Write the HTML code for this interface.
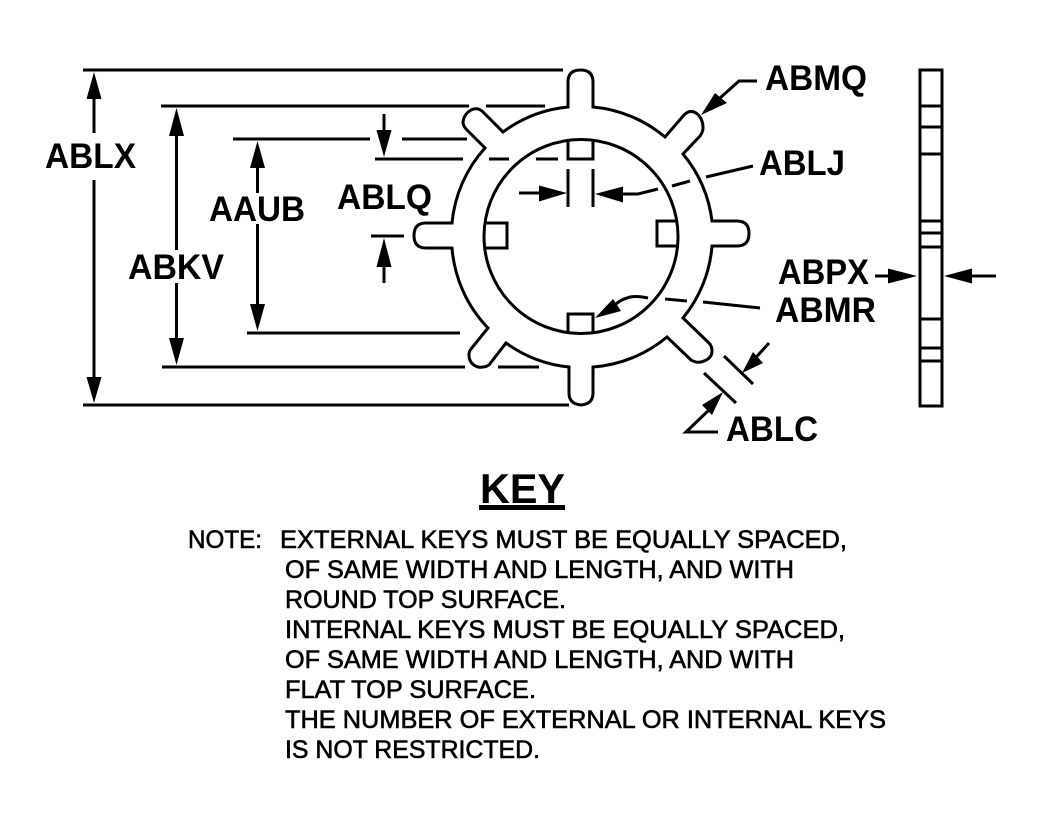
<!DOCTYPE html>
<html>
<head>
<meta charset="utf-8">
<style>
html,body{margin:0;padding:0;background:#fff;}
svg{display:block;}
.l{font:bold 35px "Liberation Sans",Arial,sans-serif;fill:#000;}
.n{font:25px "Liberation Sans",Arial,sans-serif;fill:#000;stroke:#000;stroke-width:.6;}
</style>
</head>
<body>
<svg width="1038" height="819" viewBox="0 0 1038 819" xmlns="http://www.w3.org/2000/svg">
<rect width="1038" height="819" fill="#fff"/>
<!-- outer outline -->
<g fill="none" stroke="#000" stroke-width="3">
<path d="M568 107 V82 Q568 70 580.5 70 Q593 70 593 82 V107 A130 130 0 0 1 665 137 L684 115 Q690 109 696 113 Q703 118 703 128 Q703 132 700 136 L683 154 A130 130 0 0 1 712 221 H737 Q749 221 749 233.5 Q749 246 737 246 H712 A130 130 0 0 1 683 318 L709 343 Q712 346 712 351 Q712 358 704 361 Q698 364 691 360 L667 337 A130 130 0 0 1 593 367 V393 Q593 404 581 405 Q569 404 569 393 V367 A130 130 0 0 1 506 343 L489 365 Q484 368 478 367 Q469 364 469 355 Q469 351 471 349 L488 328 A130 130 0 0 1 452 248 H426 Q414 248 414 235.5 Q414 223 426 223 H452 A130 130 0 0 1 485 148 L467 130 Q463 126 463 122 Q464 114 471 110 Q477 107 482 111 L503 132 A130 130 0 0 1 568 107 Z"/>
<circle cx="581" cy="236.5" r="97"/>
<path d="M568 140 V159 H593 V140"/>
<path d="M484 223 H507 V248 H484"/>
<path d="M678 221 H657 V246 H678"/>
<path d="M568 333 V314 H593 V333"/>
<!-- extension lines -->
<path d="M83 70 H563 M161 106 H469 M486 106 H545 M233 139 H370 M402 139 H467 M375 159 H463 M489 159 H509 M536 159 H558 M371 236 H404 M247 333 H460 M162 367 H465 M498 367 H539 M83 405 H569"/>
<!-- shafts -->
<path d="M94 99 V133 M94 180 V377 M176.500 136 V250 M176.500 283 V338 M257.500 168 V193 M257.500 224 V304 M384 114 V130 M384 267 V283"/>
<!-- ABLJ -->
<path d="M568 169 V207 M593 169 V207 M519 193 H540 M622 194 H638 L658 189 M672 186 L690 181 M706 177 L753 166"/>
<!-- ABMQ -->
<path d="M757 81 H739 L720 98"/>
<!-- ABMR -->
<path d="M760 308 L703 302 M687 301 L665 299 M648 298 Q634 295 627 298 Q620 300 615 305"/>
<!-- ABLC -->
<path d="M724 356 L753 384 M704 373 L736 403 M769 343 L750 364 M711 408 L686 432 H718"/>
<!-- side view -->
<rect x="920" y="70" width="22" height="336"/>
<path d="M920 106 H942 M920 127 H942 M920 154 H942 M920 221 H942 M920 233 H942 M920 247 H942 M920 319 H942 M920 348 H942 M920 361 H942"/>
<path d="M875 276 H890 M970 276 H996"/>
</g>
<!-- arrowheads -->
<g fill="#000">
<path d="M94 72 L101.500 99 H86.500 Z"/>
<path d="M94 403 L101.500 377 H86.500 Z"/>
<path d="M176.500 108 L184 136 H169 Z"/>
<path d="M176.500 365 L184 338 H169 Z"/>
<path d="M257.500 141 L265 168 H250 Z"/>
<path d="M257.500 331 L265 304 H250 Z"/>
<path d="M384 157 L391.500 130 H376.500 Z"/>
<path d="M384 238 L391.500 267 H376.500 Z"/>
<path d="M567 193 L539 185.500 V201.500 Z"/>
<path d="M595 194 L623 186.500 V202.500 Z"/>
<path d="M701 115 L715 93 L727 103 Z"/>
<path d="M595 318 L613 299 L621 311 Z"/>
<path d="M742 373 L753 352 L763 363 Z"/>
<path d="M723 392 L702 405 L712 415 Z"/>
<path d="M917 276 L888 268.500 V283.500 Z"/>
<path d="M944 276 L972 268.500 V283.500 Z"/>
<rect x="479" y="505" width="86" height="5"/>
</g>
<!-- labels -->
<text class="l" x="45" y="168" textLength="91" lengthAdjust="spacingAndGlyphs">ABLX</text>
<text class="l" x="128" y="279" textLength="96" lengthAdjust="spacingAndGlyphs">ABKV</text>
<text class="l" x="209" y="221" textLength="96" lengthAdjust="spacingAndGlyphs">AAUB</text>
<text class="l" x="337" y="209" textLength="95" lengthAdjust="spacingAndGlyphs">ABLQ</text>
<text class="l" x="765" y="90" textLength="102" lengthAdjust="spacingAndGlyphs">ABMQ</text>
<text class="l" x="759" y="175" textLength="86" lengthAdjust="spacingAndGlyphs">ABLJ</text>
<text class="l" x="778" y="284" textLength="91" lengthAdjust="spacingAndGlyphs">ABPX</text>
<text class="l" x="775" y="322" textLength="101" lengthAdjust="spacingAndGlyphs">ABMR</text>
<text class="l" x="726" y="441" textLength="92" lengthAdjust="spacingAndGlyphs">ABLC</text>
<text x="480" y="503" textLength="85" lengthAdjust="spacingAndGlyphs" style="font:bold 42px 'Liberation Sans',Arial,sans-serif;fill:#000">KEY</text>
<!-- note -->
<text class="n" x="188" y="548" textLength="74" lengthAdjust="spacingAndGlyphs">NOTE:</text>
<text class="n" x="280" y="548" textLength="567" lengthAdjust="spacingAndGlyphs">EXTERNAL KEYS MUST BE EQUALLY SPACED,</text>
<text class="n" x="285" y="578" textLength="509" lengthAdjust="spacingAndGlyphs">OF SAME WIDTH AND LENGTH, AND WITH</text>
<text class="n" x="285" y="608" textLength="281" lengthAdjust="spacingAndGlyphs">ROUND TOP SURFACE.</text>
<text class="n" x="285" y="638" textLength="560" lengthAdjust="spacingAndGlyphs">INTERNAL KEYS MUST BE EQUALLY SPACED,</text>
<text class="n" x="285" y="668" textLength="509" lengthAdjust="spacingAndGlyphs">OF SAME WIDTH AND LENGTH, AND WITH</text>
<text class="n" x="285" y="698" textLength="251" lengthAdjust="spacingAndGlyphs">FLAT TOP SURFACE.</text>
<text class="n" x="285" y="728" textLength="601" lengthAdjust="spacingAndGlyphs">THE NUMBER OF EXTERNAL OR INTERNAL KEYS</text>
<text class="n" x="285" y="758" textLength="255" lengthAdjust="spacingAndGlyphs">IS NOT RESTRICTED.</text>
</svg>
</body>
</html>
